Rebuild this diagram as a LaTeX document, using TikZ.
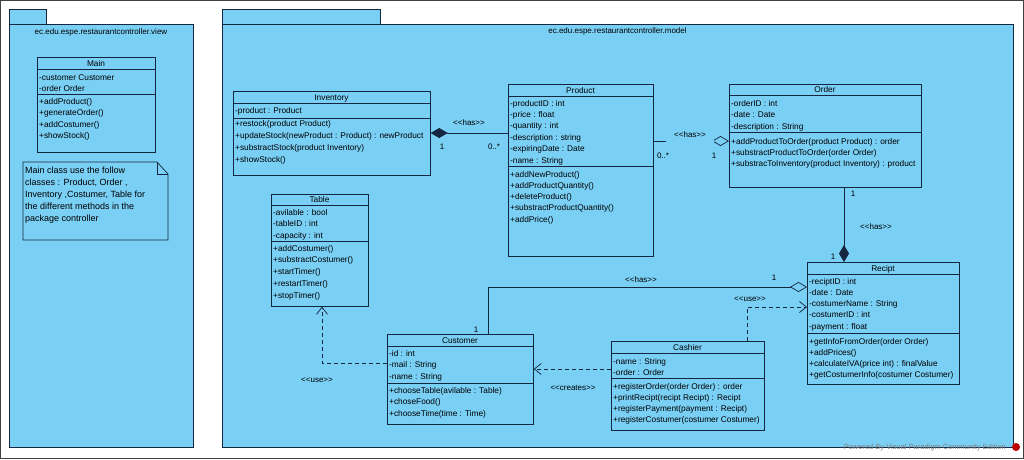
\documentclass[tikz,border=0pt]{standalone}
\usepackage{fontspec}
\setmainfont{Liberation Sans}
\usetikzlibrary{arrows.meta,calc}
\definecolor{pkg}{RGB}{122,207,245}
\definecolor{ink}{RGB}{20,38,64}
\newcommand\st[1]{<\kern0pt<#1>\kern0pt>}
\newcommand\classrows[5]{%
  \foreach \t [count=\i] in {#5} {\node[row] (#1-\i) at (#2,{#3+(\i-1)*#4}) {\t};}}
\newcommand\umlclass[8]{%
  \node[box, minimum width={#4-#2}, minimum height={#5-#3}] (#1) at (#2,#3) {};
  \draw[ink] (#1.west |- 0,#6) -- (#1.east |- 0,#6);
  \draw[ink] (#1.west |- 0,#7) -- (#1.east |- 0,#7);
  \node[ctitle] (#1-t) at ({(#2+#4)/2},{(#3+#6)/2+3}) {#8};}
\tikzset{
  box/.style={draw=ink, fill=pkg, line width=0.7pt, inner sep=0pt, anchor=north west},
  row/.style={anchor=base west, inner sep=0pt, font=\fontsize{8.3}{10}\selectfont, text=black},
  ctitle/.style={anchor=base, inner sep=0pt, font=\fontsize{8.3}{10}\selectfont},
  lbl/.style={anchor=base, inner sep=0pt, font=\fontsize{8}{10}\selectfont},
  pkglabel/.style={anchor=base, inner sep=0pt, font=\fontsize{8}{10}\selectfont},
  conn/.style={draw=ink, line width=0.7pt},
  dep/.style={conn, dash pattern=on 4pt off 3pt, -{Straight Barb[length=7pt,width=11pt]}},
  comp/.style={conn, -{Diamond[length=17pt,width=10pt,fill=ink]}},
  agg/.style={conn, -{Diamond[length=17pt,width=10pt,fill=pkg]}},
}
\begin{document}
\begin{tikzpicture}[x=1pt,y=-1pt]
\useasboundingbox (0,0) rectangle (1024,459);
\fill[white] (0,0) rectangle (1024,459);
\draw[black!75, line width=1pt] (0.5,0.5) rectangle (1023.5,458.5);

% view package
\node[box, minimum width=37, minimum height=15] (viewtab) at (9,9) {};
\node[box, minimum width=184, minimum height=423] (view) at (9,24) {};
\node[pkglabel] (viewlabel) at (101,34) {ec.edu.espe.restaurantcontroller.view};

% model package
\node[box, minimum width=158, minimum height=15] (modeltab) at (222,9) {};
\node[box, minimum width=791, minimum height=423] (model) at (222,24) {};
\node[pkglabel] (modellabel) at (617.5,33) {ec.edu.espe.restaurantcontroller.model};

% Main
\umlclass{main}{37}{57}{155}{152}{69}{94}{Main}
\classrows{main-a}{39}{80}{11}{-customer Customer, -order Order}
\classrows{main-m}{39}{104}{11.5}{+addProduct(), +generateOrder(), +addCostumer(), +showStock()}

% note
\draw[ink, fill=pkg, line width=0.7pt] (23,162) -- (157,162) -- (168,174) -- (168,240) -- (23,240) -- cycle;
\draw[ink, line width=0.7pt] (157,162) -- (157,174) -- (168,174);
\node[anchor=north west, inner sep=0pt, align=left, font=\fontsize{9}{12}\selectfont] (notetext) at (25,166.5)
  {Main class use the follow\\classes : Product, Order ,\\Inventory ,Costumer, Table for\\the different methods in the\\package controller};

% Inventory
\umlclass{inventory}{233}{91}{430}{175}{103}{118}{Inventory}
\classrows{inventory-a}{235}{113}{11.5}{-product : Product}
\classrows{inventory-m}{235}{126}{12}{+restock(product Product), +updateStock(newProduct : Product) : newProduct, +substractStock(product Inventory), +showStock()}

% Product
\umlclass{product}{508}{84}{653}{256}{96}{166}{Product}
\classrows{product-a}{510}{106}{11.4}{-productID : int, -price : float, -quantity : int, -description : string, -expiringDate : Date, -name : String}
\classrows{product-m}{510}{177}{11.3}{+addNewProduct(), +addProductQuantity(), +deleteProduct(), +substractProductQuantity(), +addPrice()}

% Order
\umlclass{order}{729}{84}{921}{187}{95}{132}{Order}
\classrows{order-a}{731}{106}{11.5}{-orderID : int, -date : Date, -description : String}
\classrows{order-m}{731}{144}{11.2}{+addProductToOrder(product Product) : order, +substractProductToOrder(order Order), +substracToInventory(product Inventory) : product}

% Table
\umlclass{table}{271}{194}{368}{306}{205}{241}{Table}
\classrows{table-a}{273}{215.5}{11.3}{-avilable : bool, -tableID : int, -capacity : int}
\classrows{table-m}{273}{251}{11.8}{+addCostumer(), +substractCostumer(), +startTimer(), +restartTimer(), +stopTimer()}

% Customer
\umlclass{customer}{387}{334}{533}{424}{346}{383}{Customer}
\classrows{customer-a}{389}{356.5}{11.3}{-id : int, -mail : String, -name : String}
\classrows{customer-m}{389}{393}{11.5}{+chooseTable(avilable : Table), +choseFood(), +chooseTime(time : Time)}

% Cashier
\umlclass{cashier}{611}{341}{764}{430}{353}{378}{Cashier}
\classrows{cashier-a}{613}{364.5}{10.6}{-name : String, -order : Order}
\classrows{cashier-m}{613}{389}{11.3}{+registerOrder(order Order) : order, +printRecipt(recipt Recipt) : Recipt, +registerPayment(payment : Recipt), +registerCostumer(costumer Costumer)}

% Recipt
\umlclass{recipt}{807}{262}{959}{384}{274}{333}{Recipt}
\classrows{recipt-a}{809}{284}{11.25}{-reciptID : int, -date : Date, -costumerName : String, -costumerID : int, -payment : float}
\classrows{recipt-m}{809}{344}{11}{+getInfoFromOrder(order Order), +addPrices(), +calculateIVA(price int) : finalValue, +getCostumerInfo(costumer Costumer)}

% Inventory - Product (composition)
\draw[conn, {Diamond[length=17pt,width=10pt,fill=ink]}-] ($(inventory.north east)+(0,42)$) -- ($(product.north west)+(0,49)$);
\node[lbl] (l1) at (469,125) {\st{has}};
\node[lbl] (l1a) at (442,149) {1};
\node[lbl] (l1b) at (494,149) {0..*};

% Product - Order (aggregation)
\draw[agg] ($(product.north east)+(0,57)$) -- ($(order.north west)+(0,57)$);
\node[lbl, fill=pkg, inner xsep=8pt, inner ysep=1pt, text height=6pt, text depth=9pt] (l2) at (690,137) {\st{has}};
\node[lbl] (l2a) at (663,158) {0..*};
\node[lbl] (l2b) at (714,158) {1};

% Order - Recipt (composition)
\draw[comp] ($(order.south west)+(115,0)$) -- ($(recipt.north west)+(37,0)$);
\node[lbl] (l3a) at (853,196) {1};
\node[lbl] (l3) at (876,229) {\st{has}};
\node[lbl] (l3b) at (833,259) {1};

% Customer - Recipt (aggregation)
\draw[agg] ($(customer.north west)+(101,0)$) |- ($(recipt.north west)+(0,25)$);
\node[lbl] (l4a) at (476,332) {1};
\node[lbl] (l4) at (641,282) {\st{has}};
\node[lbl] (l4b) at (774,280) {1};

% Cashier -> Customer
\draw[dep] ($(cashier.north west)+(0,28)$) -- ($(customer.north east)+(0,35)$);
\node[lbl] (l5) at (573,390) {\st{creates}};

% Cashier -> Recipt
\draw[dep] ($(cashier.north west)+(136,0)$) |- ($(recipt.north west)+(0,45)$);
\node[lbl] (l6) at (750,301) {\st{use}};

% Customer -> Table
\draw[dep] ($(customer.north west)+(0,29)$) -| ($(table.south west)+(51,0)$);
\node[lbl] (l7) at (317,382) {\st{use}};

% watermark
\node[anchor=base east, inner sep=0pt, font=\fontsize{7.5}{9}\selectfont, text=black!50] (wm) at (1006,449) {Powered By Visual Paradigm Community Edition};
\node[circle, fill=red!75!black, minimum size=8pt, inner sep=0pt] (vpicon) at (1016,447) {};
\end{tikzpicture}
\end{document}
